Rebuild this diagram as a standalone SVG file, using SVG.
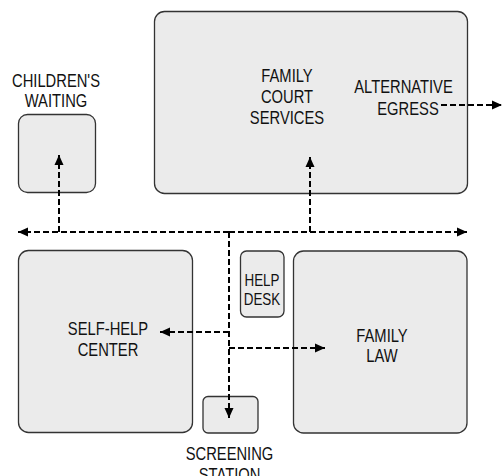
<svg xmlns="http://www.w3.org/2000/svg" width="503" height="476" viewBox="0 0 503 476">
<defs>
<style>
.box{fill:#ebebeb;stroke:#333;stroke-width:1.3}
.lbl{font-family:"Liberation Sans",Arial,sans-serif;font-size:18px;fill:#111;text-anchor:middle}
.sm{font-size:16px}
.con{fill:none;stroke:#000;stroke-width:2;stroke-dasharray:6,3}
</style>
<marker id="ah" markerUnits="userSpaceOnUse" markerWidth="10" markerHeight="10" viewBox="0 0 10 10" refX="10" refY="5" orient="auto-start-reverse">
<path d="M0,0.5 L10,5 L0,9.5 z" fill="#000"/>
</marker>
</defs>
<rect width="503" height="476" fill="#fff"/>
<g id="family-court-services">
<rect class="box" x="154.5" y="11.5" width="313" height="182" rx="10"/>
<text class="lbl" transform="translate(287,81.5) scale(0.82,1)"><tspan x="0">FAMILY</tspan><tspan x="0" dy="21.3">COURT</tspan><tspan x="0" dy="21.3">SERVICES</tspan></text>
</g>
<g id="alternative-egress">
<text class="lbl" transform="translate(403.5,92.5) scale(0.82,1)">ALTERNATIVE</text>
<text class="lbl" transform="translate(408,114.5) scale(0.82,1)">EGRESS</text>
</g>
<g id="childrens-waiting">
<text class="lbl" transform="translate(56,86.5) scale(0.82,1)"><tspan x="0">CHILDREN'S</tspan><tspan x="0" dy="21">WAITING</tspan></text>
<rect class="box" x="18.5" y="114.5" width="77" height="78" rx="9"/>
</g>
<g id="self-help-center">
<rect class="box" x="18.5" y="250.5" width="174" height="182" rx="10"/>
<text class="lbl" transform="translate(108,335) scale(0.82,1)"><tspan x="0">SELF-HELP</tspan><tspan x="0" dy="20.7">CENTER</tspan></text>
</g>
<g id="help-desk">
<rect class="box" x="240.5" y="251" width="43.5" height="66" rx="6"/>
<text class="lbl sm" transform="translate(262,285.5) scale(0.84,1)"><tspan x="0">HELP</tspan><tspan x="0" dy="19.4">DESK</tspan></text>
</g>
<g id="family-law">
<rect class="box" x="293.5" y="251" width="173.5" height="182" rx="10"/>
<text class="lbl" transform="translate(382,341.5) scale(0.82,1)"><tspan x="0">FAMILY</tspan><tspan x="0" dy="21">LAW</tspan></text>
</g>
<g id="screening-station">
<rect class="box" x="203" y="396.5" width="55" height="36.5" rx="5"/>
<text class="lbl" transform="translate(229.5,460) scale(0.82,1)"><tspan x="0">SCREENING</tspan><tspan x="0" dy="21">STATION</tspan></text>
</g>
<g id="connectors">
<line class="con" x1="229" y1="232" x2="18" y2="232" marker-end="url(#ah)"/>
<line class="con" x1="229" y1="232" x2="467" y2="232" marker-end="url(#ah)"/>
<line class="con" x1="59" y1="232" x2="59" y2="155" marker-end="url(#ah)"/>
<line class="con" x1="310" y1="232" x2="310" y2="157" marker-end="url(#ah)"/>
<line class="con" x1="229" y1="232" x2="229" y2="418" marker-end="url(#ah)"/>
<line class="con" x1="229" y1="332" x2="160" y2="332" marker-end="url(#ah)"/>
<line class="con" x1="229" y1="348" x2="325" y2="348" marker-end="url(#ah)"/>
<line class="con" x1="441" y1="105" x2="502" y2="105" marker-end="url(#ah)"/>
</g>
</svg>
